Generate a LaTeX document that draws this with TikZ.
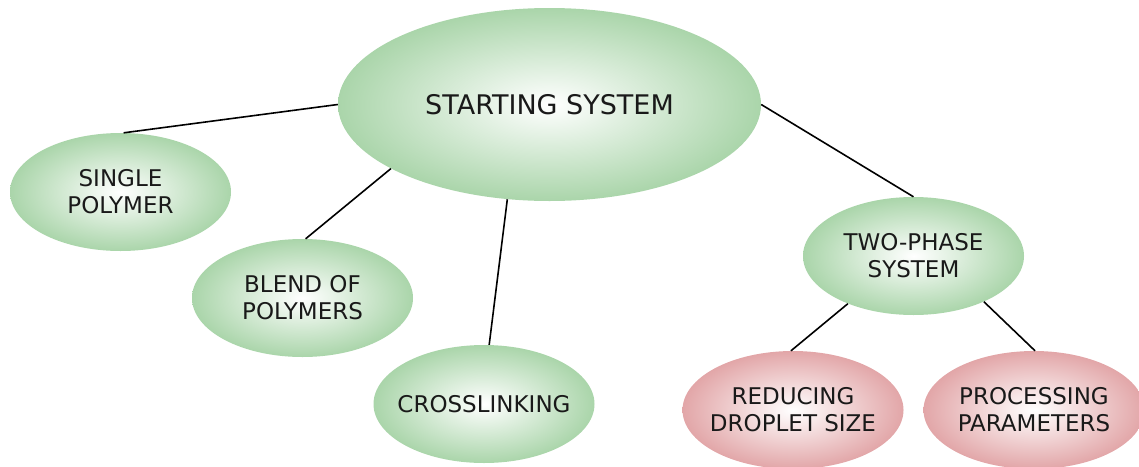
\documentclass[tikz,border=0pt]{standalone}
\usepackage{fontspec}
\setmainfont{DejaVu Sans}
\usetikzlibrary{shapes.geometric}
\definecolor{gEdge}{RGB}{170,213,170}
\definecolor{pEdge}{RGB}{226,166,168}
\begin{document}
\begin{tikzpicture}[x=1pt,y=-1pt,
  bubble/.style={ellipse, inner ysep=0pt, inner xsep=-15pt, align=center,
    font=\fontsize{23}{27}\selectfont, text=black!90,
    minimum width=221pt, minimum height=118pt},
  greenb/.style={bubble, inner color=white, outer color=gEdge},
  pinkb/.style={bubble, inner color=white, outer color=pEdge},
  link/.style={draw=black, line width=1.6pt}
]
\useasboundingbox (0,0) rectangle (1139,466);
\clip (0,0) rectangle (1139,466);
\node[greenb, minimum width=423pt, minimum height=193pt,
  font=\fontsize{27}{31}\selectfont] (start) at (549.5,104.5) {STARTING SYSTEM};
\node[greenb] (single) at (120.5,192) {SINGLE\\POLYMER};
\node[greenb] (blend) at (302.5,298) {BLEND OF\\POLYMERS};
\node[greenb] (cross) at (484,404) {CROSSLINKING};
\node[greenb] (two) at (913.5,256) {TWO-PHASE\\SYSTEM};
\node[pinkb] (reduce) at (793,410) {REDUCING\\DROPLET SIZE};
\node[pinkb] (proc) at (1034,410) {PROCESSING\\PARAMETERS};
\draw[link] (start.180) -- (single.87.6);
\draw[link] (start.202.9) -- (blend.87.6);
\draw[link] (start.246.7) -- (cross.85);
\draw[link] (start.0.4) -- (two.90);
\draw[link] (two.216.5) -- (reduce.92.9);
\draw[link] (two.327.8) -- (proc.89);
\end{tikzpicture}
\end{document}
